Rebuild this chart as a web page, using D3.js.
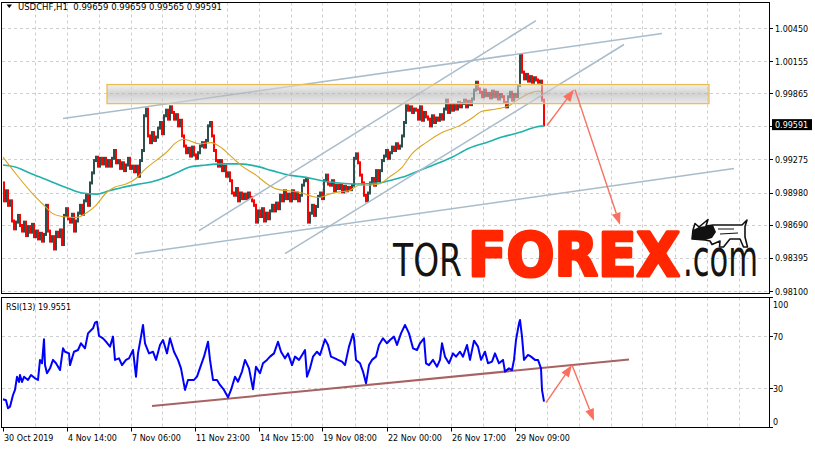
<!DOCTYPE html>
<html><head><meta charset="utf-8">
<script src="https://cdn.jsdelivr.net/npm/d3@7"></script>
<style>
html,body{margin:0;padding:0;background:#fff;}
svg{display:block;}
text{font-family:"DejaVu Sans",sans-serif;}
</style></head><body>
<svg id="c" width="815" height="449"></svg>
<script>
// ---------- DATA ----------
const symbol = "USDCHF,H1";
const headerQuote = ["0.99659","0.99659","0.99565","0.99591"];
const lastPrice = 0.99591;
const rsiLabel = "RSI(13) 19.9551";
const hoursPerCandle = 2;
const firstOpen = 0.9907;
const closes = [
0.9891,0.9900,0.9887,0.9891, 0.9873,0.9866,0.9872, 0.9878,0.9869,
0.9864,0.9872,0.9860,0.9868,0.9863,0.9870, 0.9859,0.9864,0.9857,0.9862,0.9855,0.9861,
0.9887,0.9864, 0.9855,0.9859,0.9848, 0.9863,0.9859,0.9865,0.9852, 0.9878,0.9884,
0.9875,0.9872,0.9879,0.9864,0.9873, 0.9880,0.9887,0.9879, 0.9891,0.9896,0.9887,
0.9907,0.9916, 0.9927,0.9930,0.9922,0.9929, 0.9924,0.9929,0.9922,0.9927,0.9922,
0.9929,0.9936,0.9925, 0.9927,0.9920,0.9925,0.9918,0.9923,0.9929,0.9920,0.9922,0.9917,0.9922,
0.9913, 0.9927,0.9936, 0.9967,0.9973, 0.9949,0.9943,0.9952,0.9945,0.9948,
0.9956,0.9961,0.9951, 0.9967,0.9972,0.9964,0.9975,0.9970, 0.9964,0.9968,0.9958,0.9963,
0.9949,0.9940,0.9934, 0.9938,0.9931,0.9939, 0.9932,0.9929,0.9934, 0.9940,0.9943,0.9939,0.9945,
0.9958,0.9961, 0.9949, 0.9936,0.9927, 0.9922,0.9927,0.9918,0.9922, 0.9913,0.9916,0.9909,
0.9898, 0.9896,0.9902,0.9891,0.9898,0.9893, 0.9897,0.9893,0.9898,0.9894, 0.9891,0.9887,
0.9872, 0.9882,0.9877,0.9884,0.9873,0.9880,0.9875,0.9882, 0.9887,0.9882,0.9889,0.9884,
0.9896,0.9891,0.9900,0.9893, 0.9897,0.9891,0.9900,0.9893,0.9898,0.9891,0.9896,
0.9905,0.9909,0.9911, 0.9872, 0.9880,0.9887,0.9878,0.9886, 0.9895,0.9898,0.9893,
0.9909,0.9914,0.9906, 0.9905,0.9909,0.9900,0.9905,
0.9902,0.9905,0.9899,0.9904,0.9900,0.9903,0.9901,0.9905, 0.9929,0.9933,
0.9925,0.9914,0.9907, 0.9896,0.9891,0.9898, 0.9907,0.9911,0.9905,0.9918,0.9909, 0.9918,
0.9927,0.9931,0.9936,0.9929,0.9934, 0.9939,0.9936,0.9942,0.9938,0.9940, 0.9949,0.9961,
0.9976,0.9972,0.9975, 0.9970,0.9973, 0.9972,0.9964,0.9975,0.9963,0.9970,0.9966,
0.9964,0.9958,0.9967,0.9961, 0.9965,0.9963,0.9968,0.9964, 0.9973,0.9981,0.9970,0.9977,0.9972,
0.9977,0.9973,0.9979,0.9975, 0.9978,0.9981,0.9975,0.9980,0.9977, 0.9982,
0.9990,0.9997,0.9991, 0.9988,0.9984,0.9990,0.9985,
0.9987,0.9983,0.9989,0.9984,0.9988,0.9982,0.9986,0.9984, 0.9979,0.9975,
0.9984,0.9988,0.9981,0.9986,0.9984, 0.9994, 1.0021,1.0006, 1.0000,1.0004,
0.9998,1.0002,0.9997,1.0001,0.9999, 0.9997,0.9998, 0.9981, 0.9959
];
const priceTicks = [1.00450,1.00155,0.99865,0.99570,0.99275,0.98980,0.98690,0.98395,0.98100];
const timeTickHours = [0,64,128,192,256,320,384,448,512];
const timeTickLabels = ["30 Oct 2019","4 Nov 14:00","7 Nov 06:00","11 Nov 23:00","14 Nov 15:00","19 Nov 08:00","22 Nov 00:00","26 Nov 17:00","29 Nov 09:00"];
const gridStepHours = 32;
const maFastHours = [0,13,29,41,49,59,73,83,93,103,111,123,133,143,153,163,173,181,186,196,208,219,229,239,253,266,276,286,299,309,316,326,336,346,356,366,376,386,399,409,423,439,456,469,479,493,506,516,526,536,539];
const maFastValues = [0.9930,0.9915,0.9898,0.9887,0.9880,0.9877,0.9876,0.9880,0.9887,0.9898,0.9903,0.9906,0.9911,0.9920,0.9927,0.9934,0.9943,0.9946,0.9945,0.9942,0.9943,0.9938,0.9930,0.9922,0.9914,0.9905,0.9901,0.9900,0.9898,0.9895,0.9894,0.9897,0.9899,0.9900,0.9905,0.9905,0.9906,0.9912,0.9921,0.9933,0.9943,0.9952,0.9958,0.9965,0.9971,0.9973,0.9976,0.9982,0.9987,0.9989,0.9987];
const maSlowHours = [0,13,29,46,63,79,93,106,119,136,149,163,176,186,203,219,236,253,269,286,303,319,336,353,376,386,399,416,433,449,466,483,499,516,533,541];
const maSlowValues = [0.9923,0.9921,0.9915,0.9909,0.9903,0.9898,0.9897,0.9900,0.9903,0.9906,0.9908,0.9912,0.9917,0.9921,0.9923,0.9924,0.9924,0.9922,0.9918,0.9914,0.9912,0.9909,0.9907,0.9906,0.9907,0.9909,0.9912,0.9918,0.9924,0.9930,0.9938,0.9943,0.9948,0.9952,0.9957,0.9958];
const rsiHours = [0,3,5,7,10,12,14,16,17,19,21,25,28,32,35,37,39,41,42,44,47,50,53,57,60,62,66,67,71,75,78,82,85,90,92,94,96,100,103,107,110,112,116,119,123,126,130,133,135,138,140,142,146,150,153,157,160,164,167,171,175,178,182,185,191,194,198,201,205,207,210,214,217,221,225,228,232,235,239,242,246,250,253,257,260,264,267,271,275,278,282,285,289,292,296,300,302,304,307,310,314,317,322,325,328,332,335,339,342,346,350,351,353,357,360,363,366,369,373,376,380,384,387,391,394,398,402,406,410,414,417,421,423,426,430,434,437,439,442,446,450,453,457,460,464,467,471,475,478,482,485,489,492,496,500,502,506,509,511,513,516,517,519,521,525,528,532,535,538,539,541];
const rsiValues = [21.7,21,14.8,16,25,28.9,39,35,40.4,35,39,36.6,40.4,37.8,36.6,52,49.4,67.8,48,41.7,45.5,52,49.4,44.2,60.9,58.3,57,48,58.3,59.6,64.8,60.9,72.4,76.3,80.6,81.4,70.4,68.6,66,62.2,69.9,52,53.2,48,52,53.2,59.6,39.1,57,69.9,78.9,64.8,57,58.3,52,63.5,67.3,57,68.6,58.3,52,45.5,28.9,36.6,36.6,39.1,48,54.5,66,52,36.6,36.6,32.7,28.9,23.2,28.9,39.1,35.3,43,52,45.5,29.4,46.8,41.7,49.4,52,54.5,57,66,58.3,53.2,57,48,54.5,52,57,59.6,39.1,45.5,54.5,58.3,55.8,67.8,63.5,54.5,53.2,52,50.7,48,62.2,72,68.6,52,49.4,43,34,48,52,54.5,63.5,68.6,64.8,67.3,69.9,63.5,72.4,78.9,72.4,60.9,59.6,64.8,68.6,49.4,48,52,46.8,52,64.8,54.5,49.4,57,54.5,58.3,54.5,63.5,52,66.8,62.2,52,58.3,49.4,50.7,57,49.4,52,43,45.5,44.2,52,67.3,80.1,82.7,69.9,52,55.8,54.5,52,52,45.5,28.9,19.96];
const rsiTicks = [100,70,30,0];
const rsiLevels = [70,30];
// drawn objects: [hour1, price1, hour2, price2]
const trendLines = [
  [60,0.99645,659,1.00405],
  [196,0.98644,533,1.00521],
  [282,0.98438,621,1.00307],
  [132,0.98438,731,0.99198]
];
const zone = [104,0.99949,706,0.99779];
const priceArrows = [[544,0.99583,571,0.99904],[572,0.99904,617,0.98697]];
const rsiTrend = [149,16.5,626,52.3];
const rsiArrows = [[543,19.1,569,48],[569,48,591,5.2]];
const logoParts = ["TOR","FOREX",".com"];

// ---------- LAYOUT ----------
const svg = d3.select("#c");
const R = 769;
const main = {top:2.5, bottom:293.5};
const rsiP = {top:297.5, bottom:427.5};
const x = d3.scaleLinear().domain([0,766]).range([3,769]);
const y = d3.scaleLinear().domain([0.98100,1.00450]).range([291.5,28.5]);
const yr = d3.scaleLinear().domain([0,100]).range([427.5,297.5]);
const px = v => Math.round(v - 0.5) + 0.5;

svg.append("rect").attr("width",815).attr("height",449).attr("fill","#fff");
const defs = svg.append("defs");
defs.append("clipPath").attr("id","clipMain").append("rect").attr("x",1.5).attr("y",main.top).attr("width",R-1.5).attr("height",main.bottom-main.top);
defs.append("clipPath").attr("id","clipRsi").append("rect").attr("x",1.5).attr("y",rsiP.top).attr("width",R-1.5).attr("height",rsiP.bottom-rsiP.top);
const gradZ = defs.append("linearGradient").attr("id","zoneGrad").attr("x1",0).attr("y1",0).attr("x2",0).attr("y2",1);
gradZ.append("stop").attr("offset","0%").attr("stop-color","#e6e6e6");
gradZ.append("stop").attr("offset","50%").attr("stop-color","#b4b4b4");
gradZ.append("stop").attr("offset","100%").attr("stop-color","#dcdcdc");

// ---------- GRID ----------
const grid = svg.append("g").attr("stroke","#cfcfcf").attr("stroke-dasharray","3,3").attr("stroke-width",1);
priceTicks.forEach(p => grid.append("line").attr("x1",2).attr("x2",R).attr("y1",px(y(p))).attr("y2",px(y(p))));
rsiLevels.forEach(v => grid.append("line").attr("x1",2).attr("x2",R).attr("y1",px(yr(v))).attr("y2",px(yr(v))));
for (let h = gridStepHours; x(h) < R - 2; h += gridStepHours) {
  const gx = px(x(h));
  grid.append("line").attr("x1",gx).attr("x2",gx).attr("y1",main.top).attr("y2",main.bottom);
  grid.append("line").attr("x1",gx).attr("x2",gx).attr("y1",rsiP.top).attr("y2",rsiP.bottom);
}

// ---------- LOGO (behind chart marks) ----------
const logo = svg.append("g");
function fitText(str, family, weight, size, x0, base, targetW, fill, stroke) {
  const t = logo.append("text").attr("font-family",family).attr("font-weight",weight)
    .attr("font-size",size+"px").attr("fill",fill).text(str);
  if (stroke) t.attr("stroke",fill).attr("stroke-width",stroke).attr("stroke-linejoin","round");
  const w = t.node().getComputedTextLength() || targetW;
  t.attr("transform",`translate(${x0},${base}) scale(${targetW/w},1)`);
  return t;
}
fitText(logoParts[0], "'DejaVu Serif',serif", "normal", 45, 393, 276, 69, "#141414");
fitText(logoParts[1], "Roboto,Inter,'Open Sans',sans-serif", "bold", 60, 468, 276, 212, "#ff2600", 3.2);
fitText(logoParts[2], "'DejaVu Serif',serif", "normal", 52, 683, 276, 75, "#141414");
const bull = logo.append("g").attr("transform","translate(690,217)");
bull.append("path").attr("d","M3,13 L5,6.5 L9,10 L18,2.5 L16,9 L23,8 L52,8 L57,3 L55,9.5 L55,20 L57.5,30 L53.5,30 L50,22 L40,22 L33.5,30 L29.5,30 L30,24 L22,27.5 L20,24 L15,23 L2,22 Z")
  .attr("fill","#fff").attr("stroke","#111").attr("stroke-width",1.6).attr("stroke-linejoin","round");
bull.append("path").attr("d","M3,13 L9,10 L16,9 L23,8 L26,15 L22,21 L15,23 L2,22 Z").attr("fill","#111");
bull.append("path").attr("d","M28,12 L44,12 M30,17 L48,16").attr("stroke","#111").attr("stroke-width",1.2).attr("fill","none");

// ---------- MAIN PANEL ----------
const gm = svg.append("g").attr("clip-path","url(#clipMain)");
const candles = closes.map((c,i) => ({h:i*hoursPerCandle, o: i ? closes[i-1] : firstOpen, c}));
gm.append("g").selectAll("rect").data(candles).join("rect")
  .attr("x", d => x(d.h)).attr("width", x(hoursPerCandle) - x(0))
  .attr("y", d => y(Math.max(d.o,d.c)) - 1.5)
  .attr("height", d => Math.abs(y(d.o) - y(d.c)) + 3)
  .attr("fill", d => d.c >= d.o ? "#2f4f4f" : "#ff0000");

const maLine = d3.line().x(d => x(d[0])).y(d => y(d[1])).curve(d3.curveMonotoneX);
gm.append("path").attr("d", maLine(d3.zip(maSlowHours, maSlowValues))).attr("fill","none").attr("stroke","#20b2aa").attr("stroke-width",1.6);
gm.append("path").attr("d", maLine(d3.zip(maFastHours, maFastValues))).attr("fill","none").attr("stroke","#daa520").attr("stroke-width",1.1);

trendLines.forEach(t => gm.append("line")
  .attr("x1",x(t[0])).attr("y1",y(t[1])).attr("x2",x(t[2])).attr("y2",y(t[3]))
  .attr("stroke","#a9bccb").attr("stroke-width",1.5));

gm.append("rect").attr("x",x(zone[0])).attr("y",y(zone[1])).attr("width",x(zone[2])-x(zone[0])).attr("height",y(zone[3])-y(zone[1]))
  .attr("fill","url(#zoneGrad)").attr("fill-opacity",0.6).attr("stroke","#ebbd55").attr("stroke-width",1.3);

function arrow(g, x1, y1, x2, y2, color) {
  const a = Math.atan2(y2 - y1, x2 - x1), L = 12, Wd = 4.5;
  const bx = x2 - L*Math.cos(a), by = y2 - L*Math.sin(a);
  g.append("line").attr("x1",x1).attr("y1",y1).attr("x2",bx).attr("y2",by).attr("stroke",color).attr("stroke-width",1.4);
  const p = [[x2,y2],[bx - Wd*Math.sin(a), by + Wd*Math.cos(a)],[bx + Wd*Math.sin(a), by - Wd*Math.cos(a)]];
  g.append("path").attr("d","M"+p.map(q=>q.join(",")).join("L")+"Z").attr("fill",color);
}
priceArrows.forEach(a => arrow(gm, x(a[0]), y(a[1]), x(a[2]), y(a[3]), "#fa7060"));

// ---------- RSI PANEL ----------
const gr = svg.append("g").attr("clip-path","url(#clipRsi)");
gr.append("line").attr("x1",x(rsiTrend[0])).attr("y1",yr(rsiTrend[1])).attr("x2",x(rsiTrend[2])).attr("y2",yr(rsiTrend[3]))
  .attr("stroke","#a86262").attr("stroke-width",2);
gr.append("path").attr("d", d3.line().x(d => x(d[0])).y(d => yr(d[1]))(d3.zip(rsiHours, rsiValues)))
  .attr("fill","none").attr("stroke","#0000ff").attr("stroke-width",2).attr("stroke-linejoin","round");
rsiArrows.forEach(a => arrow(gr, x(a[0]), yr(a[1]), x(a[2]), yr(a[3]), "#fa7060"));

// ---------- FRAMES ----------
const fr = svg.append("g").attr("fill","none").attr("stroke","#000").attr("stroke-width",1);
fr.append("rect").attr("x",1.5).attr("y",main.top).attr("width",R-1.5+0.5).attr("height",main.bottom-main.top);
fr.append("rect").attr("x",1.5).attr("y",rsiP.top).attr("width",R-1.5+0.5).attr("height",rsiP.bottom-rsiP.top);

// ---------- AXES ----------
const ax = svg.append("g").attr("font-size","8px").attr("fill","#000");
const curY = y(lastPrice);
priceTicks.forEach(p => {
  const ty = y(p);
  ax.append("line").attr("x1",R).attr("x2",R+4).attr("y1",px(ty)).attr("y2",px(ty)).attr("stroke","#000");
  if (Math.abs(ty - curY) > 9) ax.append("text").attr("x",775).attr("y",ty+3).text(p.toFixed(5));
});
ax.append("rect").attr("x",772).attr("y",curY-5.5).attr("width",40).attr("height",11).attr("fill","#000");
ax.append("text").attr("x",775).attr("y",curY+3).attr("fill","#fff").text(lastPrice.toFixed(5));

rsiTicks.forEach(v => {
  const ty = yr(v);
  ax.append("line").attr("x1",R).attr("x2",R+4).attr("y1",px(ty)).attr("y2",px(ty)).attr("stroke","#000");
  const off = v === 100 ? 10.5 : v === 0 ? -2.5 : 3.5;
  ax.append("text").attr("x",773).attr("y",ty+off).text(v);
});

timeTickHours.forEach((h,i) => {
  const tx = px(x(h));
  ax.append("line").attr("x1",tx).attr("x2",tx).attr("y1",rsiP.bottom).attr("y2",rsiP.bottom+4).attr("stroke","#000");
  ax.append("text").attr("x",tx+0.5).attr("y",441).text(timeTickLabels[i]);
});

// ---------- LABELS ----------
svg.append("path").attr("d","M6.5,4.5 L12,4.5 L9.25,8 Z").attr("fill","#000");
svg.append("text").attr("x",18).attr("y",9.5).attr("font-size","8.5px").attr("xml:space","preserve")
  .text(symbol + "  " + headerQuote.join(" "));
svg.append("text").attr("x",6).attr("y",309.5).attr("font-size","8px").text(rsiLabel);
</script>
</body></html>
